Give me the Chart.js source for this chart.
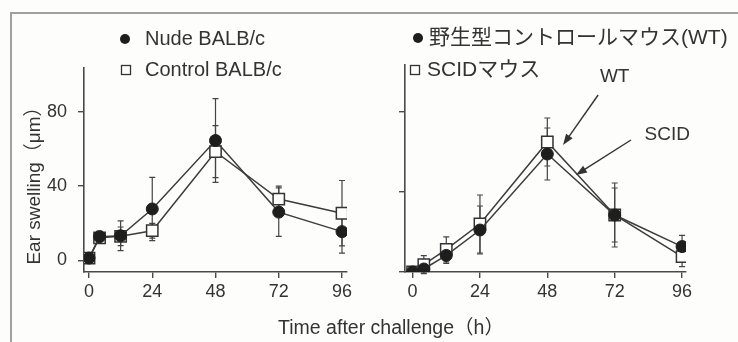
<!DOCTYPE html>
<html>
<head>
<meta charset="utf-8">
<script src="https://cdn.jsdelivr.net/npm/chart.js@4.4.0/dist/chart.umd.min.js"></script>
<style>
  html, body { margin: 0; padding: 0; background: #fff; }
  #wrap { position: relative; width: 738px; height: 342px; overflow: hidden; background: #fdfdfb; }
  #frame { position: absolute; left: 10px; top: 12px; width: 740px; height: 340px;
           border-top: 2px solid #a0a0a0; border-left: 2px solid #a0a0a0; }
  .panel { position: absolute; top: 0; height: 342px; }
  #left { left: 0; width: 372px; }
  #right { left: 372px; width: 366px; }
  #xtitle { position: absolute; left: 241px; width: 300px; top: 311px; text-align: center;
            font: 19.5px "Liberation Sans", "Noto Sans CJK JP", sans-serif; color: #333; }
</style>
</head>
<body>
<div id="wrap">
  <div id="frame"></div>
  <div class="panel" id="left"><canvas id="leftChart"></canvas></div>
  <div class="panel" id="right"><canvas id="rightChart"></canvas></div>
  <div id="xtitle"></div>
</div>
<script>
// time points (h) and axis ticks
const hours = [0, 4, 12, 24, 48, 72, 96];
const xTicks = [0, 24, 48, 72, 96];
const yTicks = [0, 40, 80];

// left panel - BALB/c
const nude = [1.3, 12.8, 13.3, 27.7, 64.5, 26, 15.5];
const nudeErr = [1, 3, 8, 17, 22.5, 13, 11.5];
const control = [1.3, 12.2, 13, 16, 58.5, 33, 25.4];
const controlErr = [1, 2, 5, 4, 14, 7, 17.6];

// right panel - WT / SCID
const wt = [0, 1.5, 8.3, 21, 59, 28.5, 12.7];
const wtErr = [0, 2, 4, 12, 13, 16, 5.6];
const scid = [0, 3.7, 11.3, 24, 65, 28.5, 7.7];
const scidErr = [0, 4.5, 6.3, 14.5, 12, 13.5, 5];

const leftLabels = ['Nude BALB/c', 'Control BALB/c'];
const rightLabels = ['野生型コントロールマウス(WT)', 'SCIDマウス'];
const yTitle = 'Ear swelling（μm）';
const xTitle = 'Time after challenge（h）';

// arrow notes on the right panel (data units)
const noteText = ['WT', 'SCID'];
const noteAt = [[72, 97.5], [90.7, 68.5]];
const noteFrom = [[66.1, 88.5], [77.8, 66]];
const noteTo = [[53.6, 63.5], [58.2, 48.5]];

const ink = '#333';
const latin = '"Liberation Sans", "Noto Sans CJK JP", sans-serif';

document.getElementById('xtitle').textContent = xTitle;

const pts = arr => hours.map((h, i) => ({ x: h, y: arr[i] }));

function circleSet(label, arr, err) {
  return {
    label, data: pts(arr), errorBars: err,
    borderColor: '#3c3c3c', borderWidth: 1.5,
    pointStyle: 'circle', pointRadius: 6,
    pointBackgroundColor: '#1e1e1e', pointBorderColor: '#1e1e1e', pointBorderWidth: 1
  };
}
function squareSet(label, arr, err) {
  return {
    label, data: pts(arr), errorBars: err,
    borderColor: '#3c3c3c', borderWidth: 1.5,
    pointStyle: 'rect', pointRadius: 8,
    pointBackgroundColor: '#fff', pointBorderColor: '#333', pointBorderWidth: 1.5
  };
}

function drawArrow(ctx, x1, y1, x2, y2) {
  const a = Math.atan2(y2 - y1, x2 - x1);
  ctx.beginPath();
  ctx.moveTo(x1, y1);
  ctx.lineTo(x2 - 8 * Math.cos(a), y2 - 8 * Math.sin(a));
  ctx.stroke();
  ctx.beginPath();
  ctx.moveTo(x2, y2);
  ctx.lineTo(x2 - 11 * Math.cos(a) + 4 * Math.sin(a), y2 - 11 * Math.sin(a) - 4 * Math.cos(a));
  ctx.lineTo(x2 - 11 * Math.cos(a) - 4 * Math.sin(a), y2 - 11 * Math.sin(a) + 4 * Math.cos(a));
  ctx.closePath();
  ctx.fill();
}

const decor = {
  id: 'decor',
  beforeDatasetsDraw(chart) {
    const { ctx, scales: { x, y } } = chart;
    ctx.save();
    ctx.strokeStyle = '#444';
    ctx.lineWidth = 1.2;
    chart.data.datasets.forEach(ds => {
      ds.data.forEach((p, i) => {
        const e = ds.errorBars[i];
        if (!e) return;
        const px = x.getPixelForValue(p.x);
        const top = y.getPixelForValue(p.y + e);
        const bot = y.getPixelForValue(p.y - e);
        ctx.beginPath();
        ctx.moveTo(px, top); ctx.lineTo(px, bot);
        ctx.moveTo(px - 3, top); ctx.lineTo(px + 3, top);
        ctx.moveTo(px - 3, bot); ctx.lineTo(px + 3, bot);
        ctx.stroke();
      });
    });
    ctx.restore();
  },
  afterDraw(chart) {
    const o = chart.options.plugins.decor;
    const { ctx, scales: { x, y } } = chart;
    ctx.save();
    ctx.fillStyle = ink;
    ctx.strokeStyle = ink;
    ctx.textBaseline = 'middle';
    // legend
    o.legend.forEach(it => {
      ctx.lineWidth = 1.3;
      if (it.marker === 'circle') {
        ctx.fillStyle = '#1e1e1e';
        ctx.beginPath();
        ctx.arc(it.mx, it.my, 5, 0, Math.PI * 2);
        ctx.fill();
      } else {
        ctx.fillStyle = '#fff';
        ctx.fillRect(it.mx - 4.5, it.my - 4.5, 9, 9);
        ctx.strokeRect(it.mx - 4.5, it.my - 4.5, 9, 9);
      }
      ctx.fillStyle = ink;
      ctx.font = it.font;
      ctx.textAlign = 'left';
      ctx.fillText(it.text, it.tx, it.my);
    });
    // y title
    if (o.yTitle) {
      ctx.save();
      ctx.translate(35, 181);
      ctx.rotate(-Math.PI / 2);
      ctx.textAlign = 'center';
      ctx.font = '19px ' + latin;
      ctx.fillText(o.yTitle, 0, 0);
      ctx.restore();
    }
    // arrow notes
    (o.notes || []).forEach((txt, i) => {
      ctx.font = '19px ' + latin;
      ctx.textAlign = 'center';
      ctx.fillText(txt, x.getPixelForValue(noteAt[i][0]), y.getPixelForValue(noteAt[i][1]));
      ctx.lineWidth = 1.4;
      drawArrow(ctx,
        x.getPixelForValue(noteFrom[i][0]), y.getPixelForValue(noteFrom[i][1]),
        x.getPixelForValue(noteTo[i][0]), y.getPixelForValue(noteTo[i][1]));
    });
    ctx.restore();
  }
};

function scalesFor(xMin, xMax, yMin, yMax, yWidth, showY) {
  const axisLine = { display: true, color: '#4a4a4a', width: 1.6 };
  const grid = { drawOnChartArea: false, drawTicks: true, tickLength: 6, color: '#4a4a4a', lineWidth: 1.4 };
  return {
    x: {
      type: 'linear', min: xMin, max: xMax,
      border: axisLine, grid,
      afterBuildTicks: ax => { ax.ticks = xTicks.map(v => ({ value: v })); },
      afterFit: ax => { ax.height = 70; },
      ticks: { color: ink, font: { size: 18, family: latin }, padding: 3 }
    },
    y: {
      min: yMin, max: yMax,
      border: axisLine, grid,
      afterBuildTicks: ax => { ax.ticks = yTicks.map(v => ({ value: v })); },
      afterFit: ax => { ax.width = yWidth; },
      ticks: { display: showY, color: ink, font: { size: 18, family: latin }, padding: 11 }
    }
  };
}

new Chart('leftChart', {
  type: 'line',
  data: {
    datasets: [
      circleSet(leftLabels[0], nude, nudeErr),
      squareSet(leftLabels[1], control, controlErr)
    ]
  },
  options: {
    responsive: true, maintainAspectRatio: false, animation: false,
    layout: { padding: { left: 24, top: 68, right: 25, bottom: 0 } },
    scales: scalesFor(-1.9, 97.9, -6.2, 103.5, 60, true),
    plugins: {
      legend: { display: false }, tooltip: { enabled: false },
      decor: {
        yTitle,
        legend: [
          { marker: 'circle', mx: 125, my: 39, tx: 145, text: leftLabels[0], font: '20px ' + latin },
          { marker: 'rect', mx: 126, my: 70, tx: 145, text: leftLabels[1], font: '20px ' + latin }
        ]
      }
    }
  },
  plugins: [decor]
});

new Chart('rightChart', {
  type: 'line',
  data: {
    datasets: [
      circleSet(rightLabels[0], wt, wtErr),
      squareSet(rightLabels[1], scid, scidErr)
    ]
  },
  options: {
    responsive: true, maintainAspectRatio: false, animation: false,
    layout: { padding: { left: 0, top: 65, right: 52, bottom: 0 } },
    scales: scalesFor(-2.7, 97.4, 0, 103.5, 33, false),
    plugins: {
      legend: { display: false }, tooltip: { enabled: false },
      decor: {
        notes: noteText,
        legend: [
          { marker: 'circle', mx: 46, my: 38, tx: 57, text: rightLabels[0], font: '21px ' + latin },
          { marker: 'rect', mx: 43, my: 70, tx: 55, text: rightLabels[1], font: '21px ' + latin }
        ]
      }
    }
  },
  plugins: [decor]
});
</script>
</body>
</html>
